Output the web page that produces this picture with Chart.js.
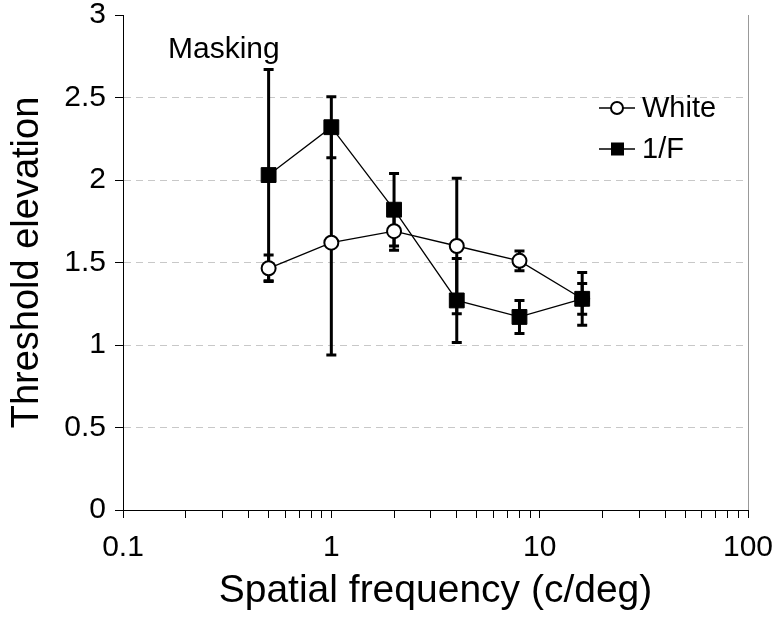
<!DOCTYPE html>
<html>
<head>
<meta charset="utf-8">
<script src="https://cdn.jsdelivr.net/npm/chart.js@4.4.1/dist/chart.umd.min.js"></script>
<style>
  html, body { margin: 0; padding: 0; background: #fff; }
  #wrap { width: 775px; height: 619px; }
</style>
</head>
<body>
<div id="wrap"><canvas id="chart" width="775" height="619"></canvas></div>
<script>
// spatial frequency (c/deg)
const freqs = [0.5, 1, 2, 4, 8, 16];
// threshold elevation, white noise mask
const whiteVals = [1.465, 1.62, 1.69, 1.60, 1.51, 1.28];
const whiteErr = [0.08, 0.68, 0.115, 0.41, 0.06, 0.093];
// threshold elevation, 1/F noise mask
const pinkVals = [2.03, 2.32, 1.82, 1.27, 1.17, 1.28];
const pinkErr = [0.64, 0.185, 0.22, 0.255, 0.10, 0.16];
// x axis labelled decades, y axis ticks
const xDecades = [0.1, 1, 10, 100];
const yTicks = [0, 0.5, 1, 1.5, 2, 2.5, 3];

const FONT = '"Liberation Sans", Arial, Helvetica, sans-serif';

function pts(vals) {
  return freqs.map((f, i) => ({ x: f, y: vals[i] }));
}

// error bars under the markers
const errorBars = {
  id: "errorBars",
  beforeDatasetsDraw(chart) {
    const ctx = chart.ctx;
    const ys = chart.scales.y;
    chart.data.datasets.forEach((ds, di) => {
      const meta = chart.getDatasetMeta(di);
      meta.data.forEach((el, i) => {
        const v = ds.data[i].y;
        const e = ds.errors[i];
        const top = ys.getPixelForValue(v + e);
        const bot = ys.getPixelForValue(v - e);
        ctx.save();
        ctx.strokeStyle = "#000";
        ctx.lineWidth = 3;
        ctx.beginPath();
        ctx.moveTo(el.x, top);
        ctx.lineTo(el.x, bot);
        ctx.moveTo(el.x - 5, top);
        ctx.lineTo(el.x + 5, top);
        ctx.moveTo(el.x - 5, bot);
        ctx.lineTo(el.x + 5, bot);
        ctx.stroke();
        ctx.restore();
      });
    });
  }
};

// right frame line, panel label and legend
const extras = {
  id: "extras",
  afterDraw(chart) {
    const ctx = chart.ctx;
    const a = chart.chartArea;
    ctx.save();
    ctx.strokeStyle = "#999";
    ctx.lineWidth = 1;
    ctx.beginPath();
    ctx.moveTo(a.right + 0.5, a.top);
    ctx.lineTo(a.right + 0.5, a.bottom);
    ctx.stroke();

    ctx.fillStyle = "#000";
    ctx.font = "30px " + FONT;
    ctx.textBaseline = "alphabetic";
    ctx.fillText("Masking", 168, 58);

    // legend
    const rows = [
      { label: "White", y: 108, square: false },
      { label: "1/F", y: 149, square: true }
    ];
    rows.forEach(r => {
      ctx.strokeStyle = "#000";
      ctx.lineWidth = 1.3;
      ctx.beginPath();
      ctx.moveTo(599, r.y);
      ctx.lineTo(635, r.y);
      ctx.stroke();
      if (r.square) {
        ctx.fillStyle = "#000";
        ctx.fillRect(611, r.y - 6.5, 13, 13);
      } else {
        ctx.fillStyle = "#fff";
        ctx.lineWidth = 2;
        ctx.beginPath();
        ctx.arc(617, r.y, 6, 0, Math.PI * 2);
        ctx.fill();
        ctx.stroke();
      }
      ctx.fillStyle = "#000";
      ctx.font = "29px " + FONT;
      ctx.textBaseline = "middle";
      ctx.fillText(r.label, 642, r.y + 1);
    });
    ctx.restore();
  }
};

new Chart(document.getElementById("chart"), {
  type: "line",
  data: {
    datasets: [
      {
        label: "White",
        data: pts(whiteVals),
        errors: whiteErr,
        order: 1,
        borderColor: "#000",
        borderWidth: 1.3,
        pointStyle: "circle",
        pointRadius: 7,
        pointBorderWidth: 2,
        pointBackgroundColor: "#fff",
        pointBorderColor: "#000",
        tension: 0,
        fill: false
      },
      {
        label: "1/F",
        data: pts(pinkVals),
        errors: pinkErr,
        order: 0,
        borderColor: "#000",
        borderWidth: 1.3,
        pointStyle: "rect",
        pointRadius: 10.5,
        pointBorderWidth: 1,
        pointBackgroundColor: "#000",
        pointBorderColor: "#000",
        tension: 0,
        fill: false
      }
    ]
  },
  options: {
    responsive: false,
    animation: false,
    devicePixelRatio: 1,
    layout: { padding: { top: 15, right: 27, left: 0, bottom: 0 } },
    plugins: {
      legend: { display: false },
      tooltip: { enabled: false }
    },
    scales: {
      x: {
        type: "logarithmic",
        min: 0.1,
        max: 100,
        afterBuildTicks(scale) {
          const t = [];
          for (let d = 0; d < xDecades.length - 1; d++) {
            for (let m = 1; m < 10; m++) {
              t.push({ value: +(xDecades[d] * m).toPrecision(3) });
            }
          }
          t.push({ value: xDecades[xDecades.length - 1] });
          scale.ticks = t;
        },
        afterFit(scale) { scale.height = 109; scale.paddingLeft = 0; scale.paddingRight = 0; },
        grid: {
          drawOnChartArea: false,
          drawTicks: true,
          tickLength: 8,
          tickColor: "#000",
          tickWidth: 1
        },
        border: { display: true, color: "#000", width: 1 },
        ticks: {
          autoSkip: false,
          maxRotation: 0,
          padding: 12,
          color: "#000",
          font: { family: FONT, size: 30 },
          callback(v) { return xDecades.includes(v) ? String(v) : ""; }
        },
        title: {
          display: true,
          text: "Spatial frequency (c/deg)",
          color: "#000",
          font: { family: FONT, size: 39 },
          padding: { top: 0, bottom: 4 }
        }
      },
      y: {
        min: 0,
        max: 3,
        afterBuildTicks(scale) { scale.ticks = yTicks.map(v => ({ value: v })); },
        afterFit(scale) { scale.width = 123; scale.paddingTop = 0; scale.paddingBottom = 0; },
        grid: {
          color(c) { return (c.tick && (c.tick.value === 0 || c.tick.value === 3)) ? "rgba(0,0,0,0)" : "#c8c8c8"; },
          lineWidth: 1,
          tickLength: 8,
          tickColor: "#000",
          tickBorderDash: [],
          drawTicks: true
        },
        border: { display: true, color: "#000", width: 1, dash: [7, 5] },
        ticks: {
          padding: 9,
          color: "#000",
          font: { family: FONT, size: 30 },
          callback(v) { return String(v); }
        },
        title: {
          display: true,
          text: "Threshold elevation",
          color: "#000",
          font: { family: FONT, size: 38 },
          padding: { top: 5, bottom: 0 }
        }
      }
    }
  },
  plugins: [errorBars, extras]
});
</script>
</body>
</html>
